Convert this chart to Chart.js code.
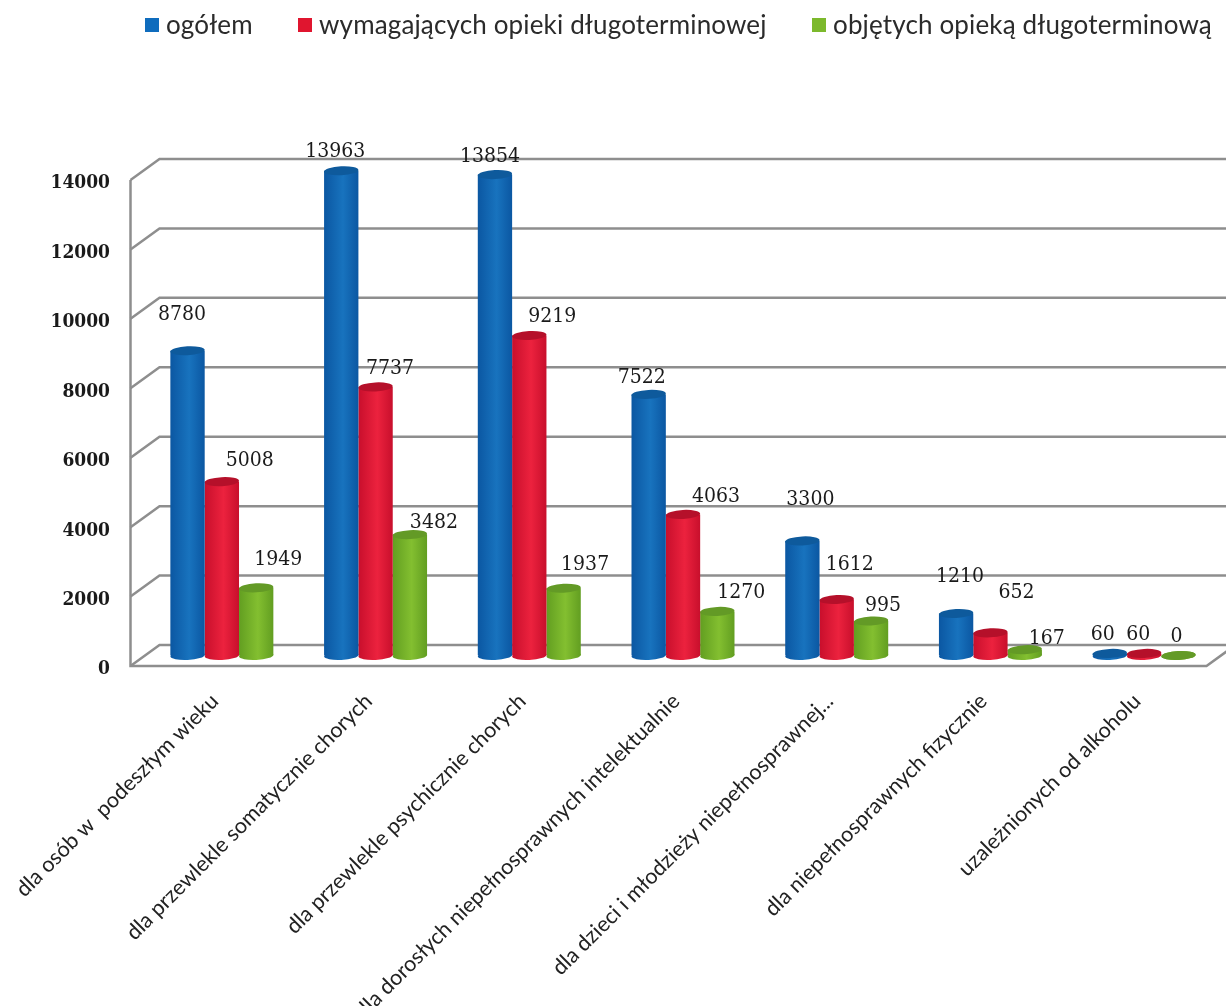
<!DOCTYPE html>
<html lang="pl">
<head>
<meta charset="utf-8">
<title>Zakłady opieki</title>
<script src="https://cdn.jsdelivr.net/npm/chart.js@4"></script>
<style>
  html, body { margin: 0; background: #fff; }
  #wrap { position: relative; width: 1226px; height: 1006px; overflow: hidden; }
  #legend span { position: absolute; top: 7px; font: 26px/34px Lato, sans-serif; color: #2b2b2b; white-space: nowrap; letter-spacing: 0.15px; }
  #legend i { position: absolute; top: 18px; width: 14px; height: 14px; }
</style>
</head>
<body>
<div id="wrap">
  <div id="legend"></div>
  <canvas id="chart" width="1226" height="1006"></canvas>
</div>
<script>
const categories = [
  "dla osób w  podeszłym wieku",
  "dla przewlekle somatycznie chorych",
  "dla przewlekle psychicznie chorych",
  "dla dorosłych niepełnosprawnych intelektualnie",
  "dla dzieci i młodzieży niepełnosprawnej...",
  "dla niepełnosprawnych fizycznie",
  "uzależnionych od alkoholu"
];
const ogolem = [8780, 13963, 13854, 7522, 3300, 1210, 60];
const wymagajacych = [5008, 7737, 9219, 4063, 1612, 652, 60];
const objetych = [1949, 3482, 1937, 1270, 995, 167, 0];
const yTicks = [0, 2000, 4000, 6000, 8000, 10000, 12000, 14000];

// kolory cylindrów: krawędź, środek, wieczko
const palette = [
  { name: "ogółem", edge: "#0b57a2", mid: "#1873be", cap: "#0e5a9c", flat: "#0f6cbd" },
  { name: "wymagających opieki długoterminowej", edge: "#c80f2c", mid: "#ec223e", cap: "#b5102a", flat: "#e0152f" },
  { name: "objętych opieką długoterminową", edge: "#629e21", mid: "#83bf30", cap: "#639a26", flat: "#7cb92c" }
];
const seriesValues = [ogolem, wymagajacych, objetych];

// przesunięcia podpisów względem wierzchołka słupka [dx, dy]
const labelNudge = [
  [[-5.5, -36.5], [-6, -19.5], [-5, -18.5], [-7, -16.5], [8, -41.5], [4, -36.5], [-7, -18.5]],
  [[28, -21.5], [14.5, -18.5], [23, -18.5], [33, -18], [13, -35], [26, -40.5], [-6, -18.5]],
  [[22, -28.5], [24, -12.5], [21.5, -23.5], [24, -18.5], [12, -15.5], [22, -11.5], [-2, -18.5]]
];

const DEPTH_X = 14.5;
const DEPTH_Y = 10.5;
const CAP_RY = 4.5;
const CAP_TILT = -0.05;
const GROUP_SHARE = 0.67;

// legenda nad wykresem
const legendX = [145, 298, 812];
const legendBox = document.getElementById("legend");
palette.forEach((p, i) => {
  const box = document.createElement("i");
  box.style.left = legendX[i] + "px";
  box.style.background = p.flat;
  const text = document.createElement("span");
  text.style.left = (legendX[i] + 21) + "px";
  text.textContent = p.name;
  legendBox.appendChild(box);
  legendBox.appendChild(text);
});

function cylinderFill(context, p) {
  const { chart, dataIndex, datasetIndex } = context;
  const xScale = chart.scales.x;
  if (!xScale) return p.flat;
  const w = (xScale.getPixelForTick(1) - xScale.getPixelForTick(0)) * GROUP_SHARE / 3;
  const cx = xScale.getPixelForTick(dataIndex) + (datasetIndex - 1) * w;
  const g = chart.ctx.createLinearGradient(cx - w / 2, 0, cx + w / 2, 0);
  g.addColorStop(0, p.edge);
  g.addColorStop(0.55, p.mid);
  g.addColorStop(1, p.edge);
  return g;
}

// ściana, podłoga i linie siatki w perspektywie
const wallsPlugin = {
  id: "walls",
  beforeDatasetsDraw(chart) {
    const { ctx, chartArea: area, scales: { y } } = chart;
    const frontL = area.left - DEPTH_X;
    const backL = area.left + DEPTH_X;
    const frontR = area.right - DEPTH_X;
    ctx.save();
    ctx.strokeStyle = "#8e8e8e";
    ctx.lineWidth = 2.5;
    yTicks.forEach(v => {
      const py = y.getPixelForValue(v);
      ctx.beginPath();
      ctx.moveTo(frontL, py + DEPTH_Y);
      ctx.lineTo(backL, py - DEPTH_Y);
      ctx.lineTo(1240, py - DEPTH_Y);
      ctx.stroke();
    });
    const py0 = y.getPixelForValue(0);
    ctx.beginPath();
    ctx.moveTo(frontL, y.getPixelForValue(14000) + DEPTH_Y);
    ctx.lineTo(frontL, py0 + DEPTH_Y);
    ctx.lineTo(frontR, py0 + DEPTH_Y);
    ctx.lineTo(frontR + 2 * DEPTH_X, py0 - DEPTH_Y);
    ctx.stroke();
    ctx.restore();
  }
};

// zaokrąglone dno i wieczko każdego słupka
const capsPlugin = {
  id: "caps",
  afterDatasetDraw(chart, args) {
    const { ctx } = chart;
    const p = palette[args.index];
    args.meta.data.forEach((bar, i) => {
      const rx = bar.width / 2;
      ctx.save();
      ctx.fillStyle = cylinderFill({ chart, dataIndex: i, datasetIndex: args.index }, p);
      ctx.beginPath();
      ctx.ellipse(bar.x, bar.base, rx, CAP_RY, CAP_TILT, 0, Math.PI * 2);
      ctx.fill();
      ctx.fillStyle = p.cap;
      ctx.beginPath();
      ctx.ellipse(bar.x, bar.y, rx, CAP_RY, CAP_TILT, 0, Math.PI * 2);
      ctx.fill();
      ctx.restore();
    });
  }
};

// wartości nad słupkami
const valuesPlugin = {
  id: "values",
  afterDatasetsDraw(chart) {
    const { ctx } = chart;
    ctx.save();
    ctx.font = "21px 'DejaVu Serif Condensed', 'DejaVu Serif'";
    ctx.fillStyle = "#1a1a1a";
    ctx.textAlign = "center";
    ctx.textBaseline = "middle";
    seriesValues.forEach((values, s) => {
      const bars = chart.getDatasetMeta(s).data;
      values.forEach((v, i) => {
        const [dx, dy] = labelNudge[s][i];
        ctx.fillText(String(v), bars[i].x + dx, bars[i].y + dy);
      });
    });
    ctx.restore();
  }
};

new Chart(document.getElementById("chart").getContext("2d"), {
  type: "bar",
  data: {
    labels: categories,
    datasets: seriesValues.map((values, s) => ({
      label: palette[s].name,
      data: values,
      backgroundColor: ctx => cylinderFill(ctx, palette[s]),
      borderWidth: 0,
      categoryPercentage: GROUP_SHARE,
      barPercentage: 1
    }))
  },
  options: {
    responsive: false,
    animation: false,
    layout: { padding: { top: 169.5, right: 5, left: 0, bottom: 0 } },
    plugins: { legend: { display: false }, title: { display: false }, tooltip: { enabled: false } },
    scales: {
      x: {
        grid: { display: false, drawTicks: false },
        border: { display: false },
        // długie ukośne etykiety nie mogą ściskać obszaru wykresu
        afterFit(scale) {
          scale.height = 350.5;
          scale.paddingLeft = 0;
          scale.paddingRight = 0;
        },
        ticks: {
          autoSkip: false,
          minRotation: 45,
          maxRotation: 45,
          padding: 33,
          labelOffset: -7,
          color: "#222",
          font: { family: "Lato", size: 21.5 }
        }
      },
      y: {
        min: 0,
        max: 14000,
        grid: { display: false, drawTicks: false },
        border: { display: false },
        afterFit(scale) { scale.width = 145; },
        ticks: {
          stepSize: 2000,
          padding: 35,
          labelOffset: 14,
          color: "#1a1a1a",
          font: { family: "'DejaVu Serif Condensed', 'DejaVu Serif'", size: 19, weight: "bold" },
          callback: v => String(v)
        }
      }
    }
  },
  plugins: [wallsPlugin, capsPlugin, valuesPlugin]
});
</script>
</body>
</html>
